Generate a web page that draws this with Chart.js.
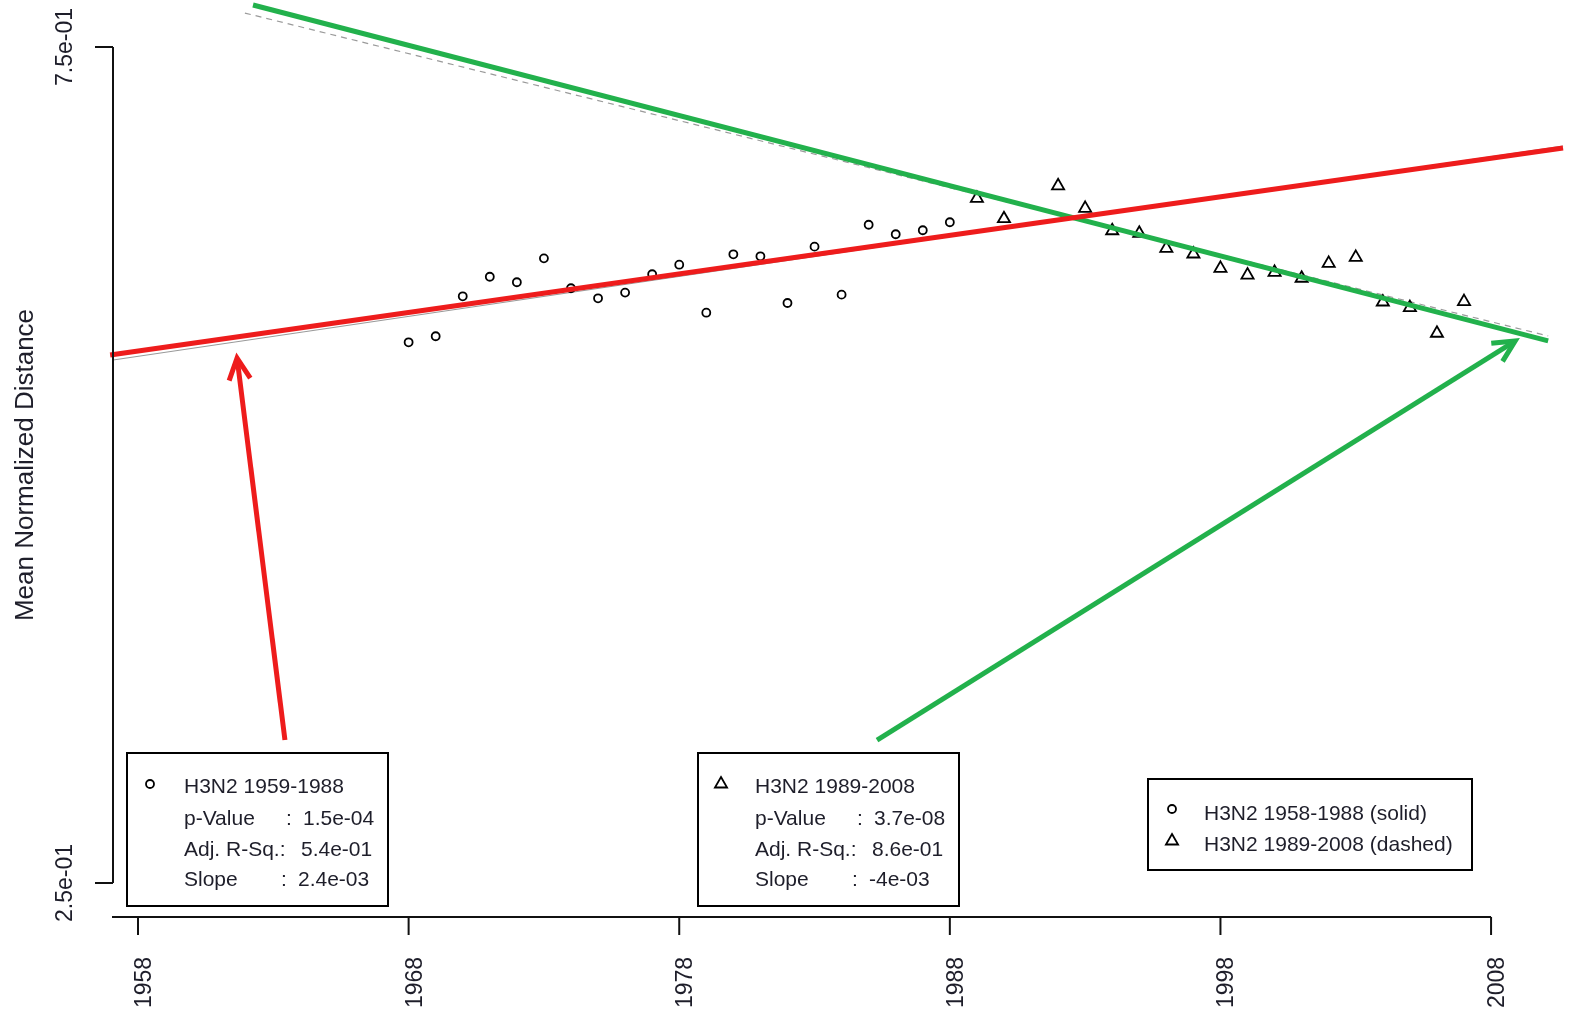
<!DOCTYPE html>
<html>
<head>
<meta charset="utf-8">
<style>
    html, body { margin: 0; padding: 0; background: #fff; }
    #chart { display: block; }
</style>
<script src="https://cdn.jsdelivr.net/npm/chart.js@4.4.0/dist/chart.umd.min.js"></script>
</head>
<body>
<canvas id="chart" width="1569" height="1015"></canvas>
<script>
// values
const circleYears = [1968, 1969, 1970, 1971, 1972, 1973, 1974, 1975, 1976, 1977, 1978, 1979, 1980, 1981, 1982, 1983, 1984, 1985, 1986, 1987, 1988];
const circleValues = [0.5734, 0.5770, 0.6009, 0.6126, 0.6093, 0.6236, 0.6057, 0.5997, 0.6031, 0.6141, 0.6198, 0.5911, 0.6260, 0.6248, 0.5969, 0.6306, 0.6019, 0.6437, 0.6380, 0.6404, 0.6452];

const triangleYears = [1989, 1990, 1992, 1993, 1994, 1995, 1996, 1997, 1998, 1999, 2000, 2001, 2002, 2003, 2004, 2005, 2006, 2007];
const triangleValues = [0.6595, 0.6473, 0.6670, 0.6535, 0.6401, 0.6386, 0.6296, 0.6262, 0.6176, 0.6136, 0.6152, 0.6117, 0.6206, 0.6242, 0.5975, 0.5941, 0.5788, 0.5977];

// regression lines (thin grey from R) and the thick lines painted over them
const fitSolidYears = [1957.08, 2010.66];
const fitSolidValues = [0.5628, 0.6908];
const fitDashedYears = [1961.95, 2010.11];
const fitDashedValues = [0.7703, 0.5772];
const redLineYears = [1956.97, 2010.66];
const redLineValues = [0.5658, 0.6896];
const greenLineYears = [1962.25, 2010.11];
const greenLineValues = [0.7751, 0.5742];

// arrows: [tail year, tail value, tip year, tip value]
const redArrow = [1963.43, 0.3355, 1961.66, 0.5640];
const greenArrow = [1985.31, 0.3355, 2008.89, 0.5742];

const xTicks = [1958, 1968, 1978, 1988, 1998, 2008];
const yTicks = [0.25, 0.75];
const yTickLabels = ['2.5e-01', '7.5e-01'];

const legendCircle = ['H3N2 1959-1988', 'p-Value', 'Adj. R-Sq.:', 'Slope'];
const legendCircleValues = ['', '1.5e-04', '5.4e-01', '2.4e-03'];
const legendTriangle = ['H3N2 1989-2008', 'p-Value', 'Adj. R-Sq.:', 'Slope'];
const legendTriangleValues = ['', '3.7e-08', '8.6e-01', '-4e-03'];
const legendKey = ['H3N2 1958-1988 (solid)', 'H3N2 1989-2008 (dashed)'];

const RED = '#ee1c1c';
const GREEN = '#22b14c';
const TEXT = '#1e1e2a';
const FONT = '"Liberation Sans", Arial, sans-serif';

const toPoints = (xs, ys) => xs.map((x, i) => ({ x: x, y: ys[i] }));

// small marker helpers, used for legend keys
const drawCircle = (ctx, x, y) => {
    ctx.beginPath();
    ctx.arc(x, y, 4, 0, Math.PI * 2);
    ctx.lineWidth = 1.8;
    ctx.strokeStyle = '#000';
    ctx.stroke();
};

const drawTriangle = (ctx, x, y) => {
    const r = 7;
    ctx.beginPath();
    ctx.moveTo(x, y - r);
    ctx.lineTo(x + r * 0.866, y + r * 0.5);
    ctx.lineTo(x - r * 0.866, y + r * 0.5);
    ctx.closePath();
    ctx.lineWidth = 1.8;
    ctx.strokeStyle = '#000';
    ctx.stroke();
};

const drawArrow = (ctx, xs, ys, arrow, color) => {
    const x1 = xs.getPixelForValue(arrow[0]);
    const y1 = ys.getPixelForValue(arrow[1]);
    const x2 = xs.getPixelForValue(arrow[2]);
    const y2 = ys.getPixelForValue(arrow[3]);
    const angle = Math.atan2(y1 - y2, x1 - x2);
    const arm = 24;
    const spread = 0.46;

    ctx.save();
    ctx.strokeStyle = color;
    ctx.lineWidth = 5;
    ctx.lineCap = 'butt';
    ctx.beginPath();
    ctx.moveTo(x1, y1);
    ctx.lineTo(x2 + Math.cos(angle) * 3, y2 + Math.sin(angle) * 3);
    ctx.stroke();

    ctx.beginPath();
    ctx.moveTo(x2 + Math.cos(angle - spread) * arm, y2 + Math.sin(angle - spread) * arm);
    ctx.lineTo(x2, y2);
    ctx.lineTo(x2 + Math.cos(angle + spread) * arm, y2 + Math.sin(angle + spread) * arm);
    ctx.lineJoin = 'miter';
    ctx.stroke();
    ctx.restore();
};

// stat boxes like R's legend()
const drawStatBox = (ctx, left, top, labels, values, marker) => {
    ctx.save();
    ctx.lineWidth = 2;
    ctx.strokeStyle = '#000';
    ctx.strokeRect(left, top, 261, 153);

    const textX = left + 57;
    const baselines = [793, 825, 856, 886];
    ctx.font = '21px ' + FONT;
    ctx.fillStyle = TEXT;
    ctx.textAlign = 'left';
    ctx.textBaseline = 'alphabetic';

    marker(ctx, left + 23, 784);

    labels.forEach((label, i) => {
        ctx.fillText(label, textX, baselines[i]);
        if (i === 1) {
            ctx.fillText(':', textX + 102, baselines[i]);
            ctx.fillText(values[i], textX + 119, baselines[i]);
        } else if (i === 2) {
            ctx.fillText(values[i], textX + 117, baselines[i]);
        } else if (i === 3) {
            ctx.fillText(':', textX + 97, baselines[i]);
            ctx.fillText(values[i], textX + 114, baselines[i]);
        }
    });
    ctx.restore();
};

const axesAndNotes = {
    id: 'axesAndNotes',
    afterDraw(chart) {
        const ctx = chart.ctx;
        const xs = chart.scales.x;
        const ys = chart.scales.y;
        const area = chart.chartArea;

        ctx.save();
        ctx.strokeStyle = '#111';
        ctx.lineWidth = 2;
        ctx.fillStyle = TEXT;

        //y axis
        const yTop = ys.getPixelForValue(yTicks[yTicks.length - 1]);
        const yBottom = ys.getPixelForValue(yTicks[0]);
        ctx.beginPath();
        ctx.moveTo(area.left, yTop);
        ctx.lineTo(area.left, yBottom);
        ctx.stroke();

        ctx.font = '23px ' + FONT;
        yTicks.forEach((tick, i) => {
            const py = ys.getPixelForValue(tick);
            ctx.beginPath();
            ctx.moveTo(area.left, py);
            ctx.lineTo(area.left - 18, py);
            ctx.stroke();

            ctx.save();
            ctx.translate(72, py);
            ctx.rotate(-Math.PI / 2);
            ctx.textAlign = 'center';
            ctx.textBaseline = 'alphabetic';
            ctx.fillText(yTickLabels[i], 0, 0);
            ctx.restore();
        });

        //x axis
        const axisY = area.bottom;
        ctx.beginPath();
        ctx.moveTo(area.left - 1, axisY);
        ctx.lineTo(xs.getPixelForValue(xTicks[xTicks.length - 1]), axisY);
        ctx.stroke();

        xTicks.forEach(tick => {
            const px = xs.getPixelForValue(tick);
            ctx.beginPath();
            ctx.moveTo(px, axisY);
            ctx.lineTo(px, axisY + 18);
            ctx.stroke();

            ctx.save();
            ctx.translate(px + 13, 1008);
            ctx.rotate(-Math.PI / 2);
            ctx.textAlign = 'left';
            ctx.textBaseline = 'alphabetic';
            ctx.fillText(String(tick), 0, 0);
            ctx.restore();
        });

        //y axis title
        ctx.save();
        ctx.font = '26px ' + FONT;
        ctx.translate(33, (yTop + yBottom) / 2);
        ctx.rotate(-Math.PI / 2);
        ctx.textAlign = 'center';
        ctx.fillText('Mean Normalized Distance', 0, 0);
        ctx.restore();
        ctx.restore();

        // painted arrows
        drawArrow(ctx, xs, ys, redArrow, RED);
        drawArrow(ctx, xs, ys, greenArrow, GREEN);

        // legends
        drawStatBox(ctx, 127, 753, legendCircle, legendCircleValues, drawCircle);
        drawStatBox(ctx, 698, 753, legendTriangle, legendTriangleValues, drawTriangle);

        ctx.save();
        ctx.lineWidth = 2;
        ctx.strokeStyle = '#000';
        ctx.strokeRect(1148, 779, 324, 91);
        drawCircle(ctx, 1172, 809);
        drawTriangle(ctx, 1172, 841);
        ctx.font = '21px ' + FONT;
        ctx.fillStyle = TEXT;
        ctx.fillText(legendKey[0], 1204, 820);
        ctx.fillText(legendKey[1], 1204, 851);
        ctx.restore();
    }
};

const ctx = document.getElementById('chart').getContext('2d');

new Chart(ctx, {
    type: 'scatter',
    data: {
        datasets: [
            {
                data: toPoints(redLineYears, redLineValues),
                showLine: true,
                borderColor: RED,
                borderWidth: 5,
                pointRadius: 0,
                clip: false
            },
            {
                data: toPoints(greenLineYears, greenLineValues),
                showLine: true,
                borderColor: GREEN,
                borderWidth: 5,
                pointRadius: 0,
                clip: false
            },
            {
                data: toPoints(circleYears, circleValues),
                pointStyle: 'circle',
                pointRadius: 4,
                pointBorderWidth: 1.8,
                pointBorderColor: '#000',
                pointBackgroundColor: 'rgba(255,255,255,0)'
            },
            {
                data: toPoints(triangleYears, triangleValues),
                pointStyle: 'triangle',
                pointRadius: 7,
                pointBorderWidth: 1.8,
                pointBorderColor: '#000',
                pointBackgroundColor: 'rgba(255,255,255,0)'
            },
            {
                data: toPoints(fitSolidYears, fitSolidValues),
                showLine: true,
                borderColor: '#9a9a9a',
                borderWidth: 1.2,
                pointRadius: 0
            },
            {
                data: toPoints(fitDashedYears, fitDashedValues),
                showLine: true,
                borderColor: '#9a9a9a',
                borderWidth: 1.2,
                borderDash: [6, 5],
                pointRadius: 0
            }
        ]
    },
    options: {
        responsive: false,
        animation: false,
        devicePixelRatio: 1,
        layout: {
            autoPadding: false,
            padding: { left: 113, right: 0, top: 0, bottom: 98 }
        },
        plugins: {
            legend: { display: false },
            tooltip: { enabled: false }
        },
        scales: {
            x: {
                type: 'linear',
                display: false,
                min: 1957.076,
                max: 2010.88
            },
            y: {
                type: 'linear',
                display: false,
                min: 0.22967,
                max: 0.77811
            }
        }
    },
    plugins: [axesAndNotes]
});
</script>
</body>
</html>
